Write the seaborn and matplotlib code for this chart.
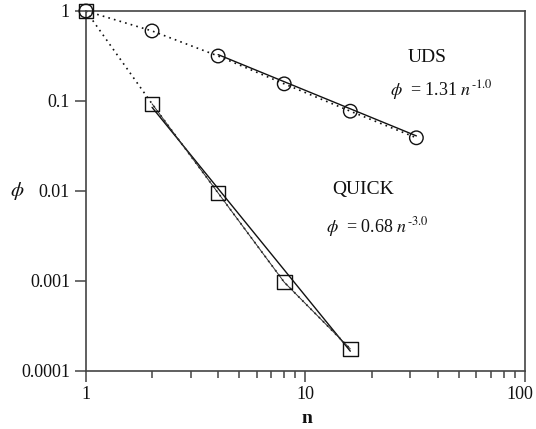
import numpy as np
import pandas as pd
import matplotlib
matplotlib.use("Agg")
import matplotlib.pyplot as plt
import matplotlib.transforms as mtransforms
import seaborn as sns
from matplotlib.ticker import LogLocator, FixedLocator, NullFormatter, FixedFormatter

sns.set_theme(style="white")
plt.rcParams['font.family'] = ['Liberation Serif', 'DejaVu Serif']
plt.rcParams['mathtext.fontset'] = 'stix'

# data
n_uds = [1, 2, 4, 8, 16, 32]
phi_uds = [1.0, 0.60, 0.316, 0.155, 0.077, 0.039]
n_quick = [1, 2, 4, 8, 16]
phi_quick = [1.0, 0.093, 0.0095, 0.00097, 0.000176]

# fits
uds_coef, uds_exp = 1.31, -1.0
quick_coef, quick_exp = 0.68, -3.0
uds_fit_n = [4, 32]
quick_fit_n = [2, 16]

y_ticks = [0.0001, 0.001, 0.01, 0.1, 1]
y_labels = ["0.0001", "0.001", "0.01", "0.1", "1"]
x_ticks = [1, 10, 100]
x_labels = ["1", "10", "100"]

df_uds = pd.DataFrame({"n": n_uds, "phi": phi_uds})
df_quick = pd.DataFrame({"n": n_quick, "phi": phi_quick})
df_uds_fit = pd.DataFrame({"n": uds_fit_n, "phi": [uds_coef * v ** uds_exp for v in uds_fit_n]})
df_quick_fit = pd.DataFrame({"n": quick_fit_n, "phi": [quick_coef * v ** quick_exp for v in quick_fit_n]})
df_quick_sub = df_quick[df_quick["n"] >= 2]

fig = plt.figure(figsize=(5.36, 4.29), dpi=100)
ax = fig.add_axes([0.1604, 0.1352, 0.8191, 0.8392])
ax.set_xscale("log")
ax.set_yscale("log")

black = "#111111"
sns.lineplot(data=df_uds, x="n", y="phi", ax=ax, color=black, lw=1.2, linestyle=(0, (1, 2.5)), sort=False)
sns.lineplot(data=df_quick, x="n", y="phi", ax=ax, color=black, lw=1.2, linestyle=(0, (1, 2.5)), sort=False)
sns.lineplot(data=df_uds_fit, x="n", y="phi", ax=ax, color=black, lw=1.0)
sns.lineplot(data=df_quick_fit, x="n", y="phi", ax=ax, color=black, lw=1.0)
sns.lineplot(data=df_quick_sub, x="n", y="phi", ax=ax, color="#333333", lw=0.7)
sns.scatterplot(data=df_uds, x="n", y="phi", ax=ax, marker="o", s=95,
                facecolor="none", edgecolor=black, linewidth=1.0, zorder=5, clip_on=False)
sns.scatterplot(data=df_quick, x="n", y="phi", ax=ax, marker="s", s=110,
                facecolor="none", edgecolor=black, linewidth=1.0, zorder=6, clip_on=False)

ax.set_xlim(1, 100)
ax.set_ylim(0.0001, 1)

ax.xaxis.set_major_locator(FixedLocator(x_ticks))
ax.xaxis.set_major_formatter(FixedFormatter(x_labels))
ax.xaxis.set_minor_locator(LogLocator(base=10, subs=np.arange(2, 10)))
ax.xaxis.set_minor_formatter(NullFormatter())
ax.yaxis.set_major_locator(FixedLocator(y_ticks))
ax.yaxis.set_major_formatter(FixedFormatter(y_labels))
ax.yaxis.set_minor_locator(FixedLocator([]))

spine_col = "#444444"
for s in ax.spines.values():
    s.set_color(spine_col)
    s.set_linewidth(1.2)
ax.tick_params(axis="both", which="major", direction="out", length=8, width=1.1,
               color=spine_col, labelsize=13, labelcolor="#111111", bottom=True, left=True)
ax.tick_params(axis="x", which="major", pad=2.5)
ax.tick_params(axis="x", which="minor", direction="out", length=5, width=1.1,
               color=spine_col, bottom=True)
ax.tick_params(axis="y", which="major", pad=3.5)

# nudge the "100" label slightly left so it stays inside the picture
fig.canvas.draw()
last = ax.get_xticklabels()[-1]
last.set_transform(last.get_transform() + mtransforms.ScaledTranslation(-5 / 100, 0, fig.dpi_scale_trans))

ax.set_xlabel("n", fontsize=14, fontweight="bold", color="#111111")
ax.xaxis.set_label_coords(0.503, -0.107)
ax.set_ylabel(r"$\phi$", fontsize=15, color="#111111", rotation=0, ha="center", va="center")
ax.yaxis.set_label_coords(-0.157, 0.5)

ax.text(0.776, 0.871, "UDS", transform=ax.transAxes, fontsize=14, ha="center", va="center", color="#111111")
ax.text(0.809, 0.781, r"$\phi$  = 1.31 $n^{\text{-1.0}}$", transform=ax.transAxes, fontsize=13, ha="center", va="center", color="#111111")
ax.text(0.632, 0.504, "QUICK", transform=ax.transAxes, fontsize=14, ha="center", va="center", color="#111111")
ax.text(0.663, 0.40, r"$\phi$  = 0.68 $n^{\text{-3.0}}$", transform=ax.transAxes, fontsize=13, ha="center", va="center", color="#111111")

fig.savefig("out.png", dpi=100)
